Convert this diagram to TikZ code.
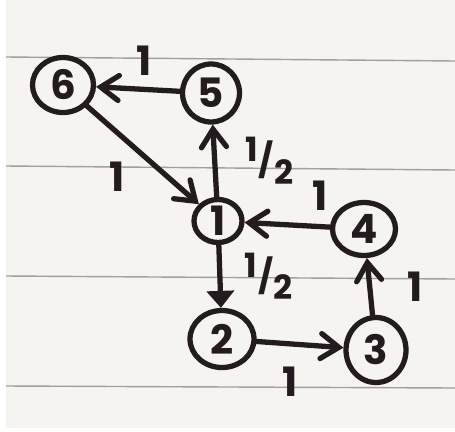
\documentclass[tikz,border=0pt]{standalone}
\usepackage{fontspec}
\setmainfont{Poppins}
\usetikzlibrary{arrows.meta, positioning, shapes.geometric}

\definecolor{ink}{HTML}{231B1D}
\definecolor{paper}{HTML}{F6F4F0}
\definecolor{rule}{HTML}{A29E99}

% one-half written as a slanted fraction
\newcommand{\half}{{\fontsize{19}{19}\selectfont\raisebox{0.6ex}{1}\kern0.02em/\kern0.02em\raisebox{-0.6ex}{2}}}

\begin{document}
\begin{tikzpicture}[
  on grid,
  vert/.style={ellipse, draw=ink, line width=3pt, inner sep=0pt, text=ink,
               font=\fontsize{23}{23}\selectfont\bfseries},
  arr/.style={draw=ink, line width=3pt, line cap=round,
              -{Straight Barb[length=3.6mm, width=5mm, line cap=round]}},
  arrf/.style={draw=ink, line width=3pt, line cap=round,
               -{Triangle[length=3.4mm, width=5.4mm]}},
  wt/.style={font=\fontsize{23}{23}\selectfont\bfseries, text=ink, inner sep=0pt}
]
\useasboundingbox (0,0) rectangle (9.1,8.62);

% ruled paper
\fill[white] (0,0) rectangle (9.1,8.62);
\fill[paper] (0.12,0.06) rectangle (9.1,8.62);
\draw[rule, line width=0.8pt] (0.12,7.48) -- (9.1,7.40);
\draw[rule, line width=0.8pt] (0.12,5.30) -- (9.1,5.22);
\draw[rule, line width=0.8pt] (0.12,3.10) -- (9.1,3.04);
\draw[rule, line width=0.8pt] (0.12,0.90) -- (9.1,0.86);

% vertices
\node[vert, minimum width=0.96cm, minimum height=0.86cm] (n1) at (4.36,4.20) {1};
\node[vert, minimum width=1.22cm, minimum height=1.10cm, above left=2.72cm and 3.10cm of n1] (n6) {6};
\node[vert, minimum width=1.14cm, minimum height=1.16cm, above left=2.56cm and 0.14cm of n1] (n5) {5};
\node[vert, minimum width=1.26cm, minimum height=1.06cm, below right=0.16cm and 2.92cm of n1] (n4) {4};
\node[vert, minimum width=1.28cm, minimum height=1.14cm, below right=2.36cm and 0.08cm of n1] (n2) {2};
\node[vert, minimum width=1.20cm, minimum height=1.30cm, below right=0.22cm and 3.08cm of n2] (n3) {3};

% weighted edges
\draw[arr] (n5) -- node[wt, pos=0.43, yshift=0.58cm] {1} (n6);
\draw[arr] (n6) -- node[wt, pos=0.47, xshift=-0.44cm, yshift=-0.5cm] {1} (n1);
\draw[arr] (n1) -- node[wt, pos=0.5, xshift=1.1cm] {\half} (n5);
\draw[arr] (n4) -- node[wt, pos=0.11, yshift=0.62cm] {1} (n1);
\draw[arrf] (n1) -- node[wt, pos=0.5, xshift=0.98cm] {\half} (n2);
\draw[arr] (n2) -- node[wt, pos=0.39, yshift=-0.76cm] {1} (n3);
\draw[arr] (n3) -- node[wt, pos=0.5, xshift=0.9cm] {1} (n4);

\end{tikzpicture}
\end{document}
